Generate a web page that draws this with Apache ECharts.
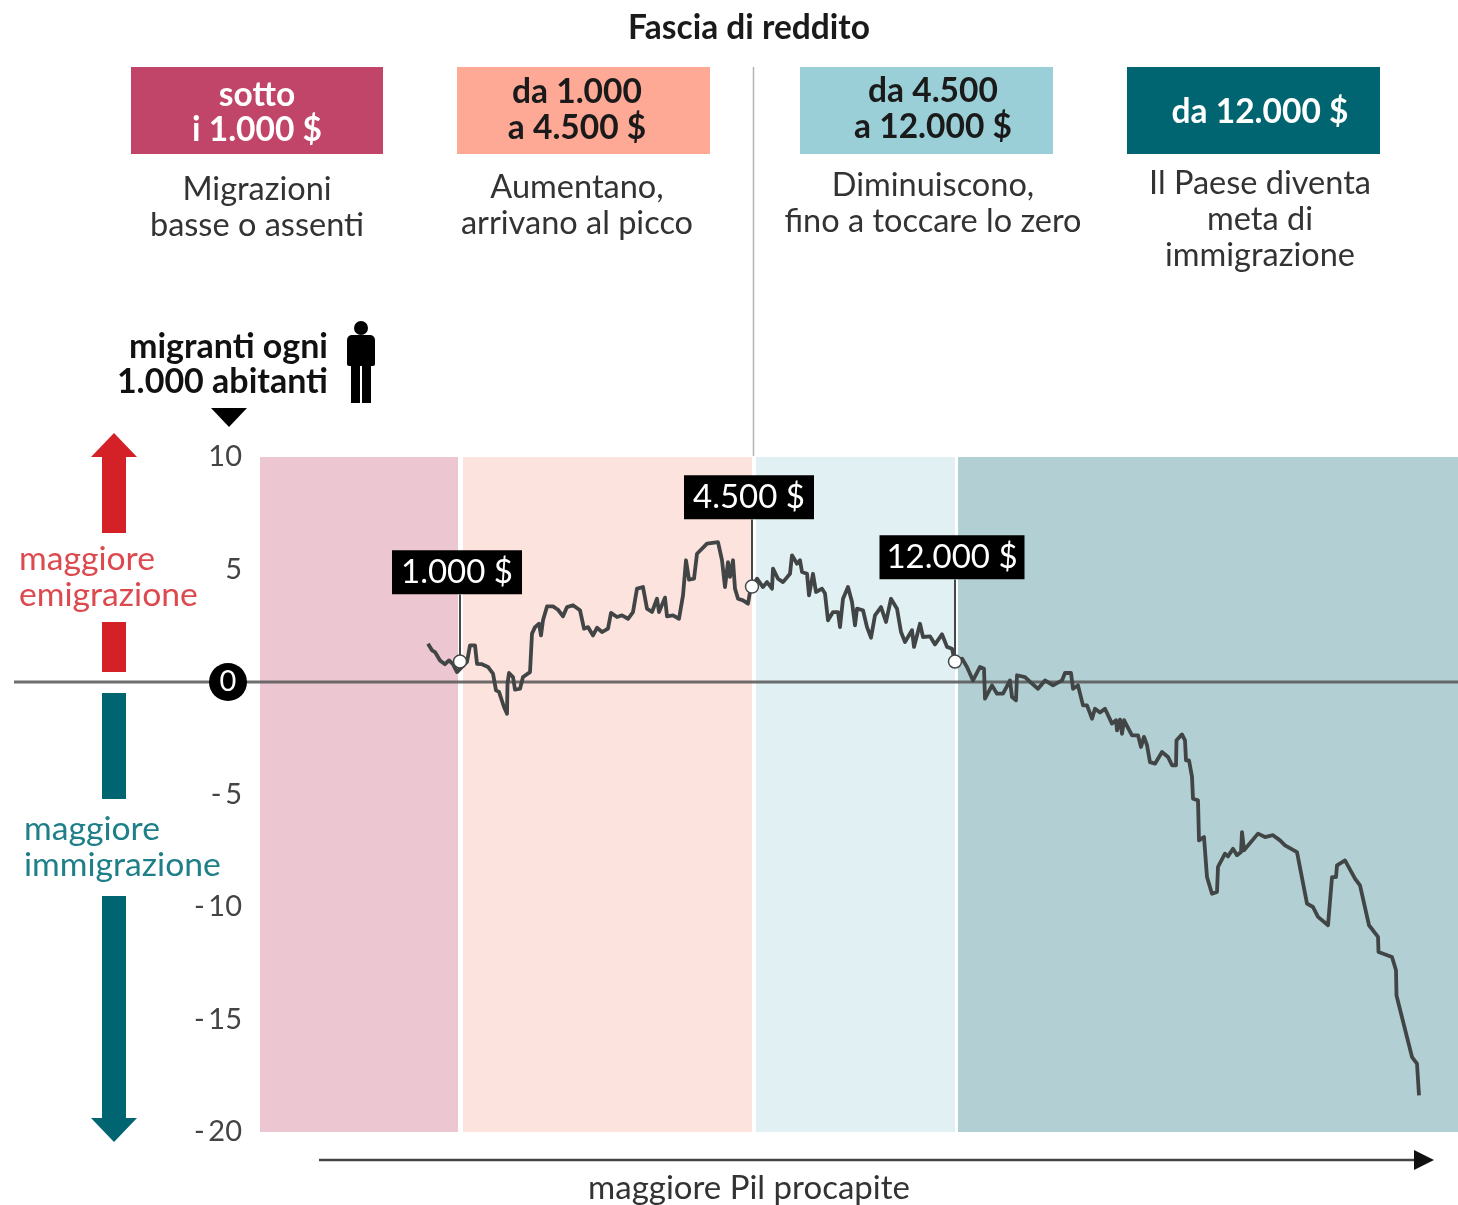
<!DOCTYPE html>
<html>
<head>
<meta charset="utf-8">
<title>Fascia di reddito</title>
<script src="https://cdn.jsdelivr.net/npm/echarts@6/dist/echarts.min.js"></script>
<style>
  html, body { margin: 0; padding: 0; background: #fff; }
  #main { width: 1458px; height: 1205px; }
</style>
</head>
<body>
<div id="main"></div>
<script>
// posizione lungo l'asse (paesi ordinati per Pil procapite)
const lineX = [168,172,175,180,185,189,193,197,202,207,210,215,217,222,228,233,236,239,244,247,247.5,249,253,255,260,263,270,272,275,279,281,283,287,293,298,303,307,313,320,324,328,333,337,342,348,351,357,362,368,373,377,383,387,392,397,399,405,407,413,419,423,426,429,434,437,447,458,462,465,468,470,473,475,478,483,488,490,493,497,503,507,512,513,518,523,530,532,537,540,542,547,549,553,556,562,565,568,573,578,580,583,588,592,595,597,603,607,611,615,621,626,631,637,641,645,652,654,660,663,670,675,682,687,692,695,702,707,713,720,724,725,732,737,743,750,752,756,757,765,772,778,785,793,802,805,811,813,818,823,827,832,835,840,845,852,856,857,860,862,864,872,878,881,884,887,890,895,902,908,912,916,916.5,922,925,926,929,932,933,938,939,944,947,952,957,958,965,968,973,977,981,982,984,998,1005,1013,1020,1025,1037,1047,1053,1058,1068,1072,1076,1077,1085,1095,1100,1109,1118,1118.5,1132,1136,1136.5,1152,1157,1159];
const lineY = [1.70,1.41,1.33,0.96,0.79,0.96,0.79,0.44,0.67,0.89,1.63,1.63,0.81,0.79,0.67,0.37,-0.37,-0.44,-1.11,-1.41,-0.07,0.40,0.22,-0.34,-0.30,0.22,0.44,2.15,2.44,2.59,2.07,2.74,3.36,3.36,3.21,2.92,3.33,3.41,3.19,2.37,2.44,2.07,2.41,2.22,2.37,3.07,2.89,2.96,2.81,3.11,4.15,4.22,3.26,3.11,3.70,3.11,3.75,2.92,2.96,2.81,3.85,5.41,4.55,4.59,5.70,6.15,6.22,5.41,4.22,5.33,4.67,5.41,4.15,3.70,3.63,3.48,4.00,4.30,4.59,4.22,4.44,4.15,5.04,4.59,4.44,4.81,5.63,5.26,5.41,4.89,4.81,3.85,4.81,4.00,4.15,3.93,2.74,3.11,3.11,2.44,3.70,4.22,3.56,2.52,3.26,3.19,2.44,1.97,2.96,3.33,2.67,3.70,3.26,2.22,1.78,2.30,1.56,2.59,2.00,2.03,1.67,2.12,1.56,1.48,0.89,1.04,0.67,0.07,0.67,0.59,-0.74,-0.15,-0.52,-0.52,0.07,-0.67,-0.81,0.30,0.22,-0.07,-0.30,0.07,-0.15,0.07,0.40,0.40,-0.30,-0.15,-1.04,-1.04,-1.63,-1.19,-1.36,-1.19,-1.85,-1.70,-2.15,-1.67,-2.30,-1.70,-2.37,-2.37,-2.89,-2.44,-2.81,-3.56,-3.63,-3.11,-3.33,-3.70,-3.70,-2.59,-2.33,-2.59,-3.48,-3.48,-4.22,-5.19,-5.26,-7.04,-6.89,-8.67,-9.41,-9.33,-8.22,-7.63,-7.75,-7.41,-7.70,-7.56,-6.67,-7.48,-6.74,-6.89,-6.81,-7.04,-7.26,-7.56,-9.85,-10.00,-10.44,-10.81,-8.67,-8.67,-8.15,-7.93,-8.74,-9.04,-10.81,-11.33,-12.00,-12.22,-12.81,-13.93,-16.67,-16.96,-18.37];

const bandStart = [0, 203, 496, 698];
const bandEnd = [198, 492, 695, 1198];
const thresholdX = [200, 492, 695];
const thresholdY = [0.91, 4.24, 0.91];
const thresholdLabels = ['1.000 $', '4.500 $', '12.000 $'];
const yTicks = [10, 5, -5, -10, -15, -20];

const FONT = 'Lato';
const bandColors = ['#ecc6d1', '#fde3de', '#e0f0f3', '#b2cfd3'];
const stemLift = [67, 67, 82]; // px tra pallino e riquadro
const boxWidth = [130, 130, 145];
const UNIT = 22.5; // px per unita' sull'asse y

const BOLD = 33.5, BODY = 32.5, SIDE = 33.7;

function txt(text, x, y, size, weight, color, align) {
  return {
    type: 'text', z: 20, silent: true,
    style: { text, x, y, fontFamily: FONT, fontSize: size, fontWeight: weight, fill: color, textAlign: align || 'center', textVerticalAlign: 'middle' }
  };
}
function box(x, y, w, h, color, z) {
  return { type: 'rect', z: z || 10, silent: true, shape: { x, y, width: w, height: h }, style: { fill: color } };
}
function tri(points, color) {
  return { type: 'polygon', z: 10, silent: true, shape: { points }, style: { fill: color } };
}

const chart = echarts.init(document.getElementById('main'));

const graphics = [
  txt('Fascia di reddito', 749, 28, BOLD, 'bold', '#1a1a1a'),
  box(131, 67, 252, 87, '#c04568'),
  box(457, 67, 253, 87, '#fea896'),
  box(800, 67, 253, 87, '#9bcfd7'),
  box(1127, 67, 253, 87, '#006570'),
  txt('sotto', 257, 95, BOLD, 'bold', '#fff'),
  txt('i 1.000 $', 257, 130, BOLD, 'bold', '#fff'),
  txt('da 1.000', 577, 92, BOLD, 'bold', '#1a1a1a'),
  txt('a 4.500 $', 577, 128, BOLD, 'bold', '#1a1a1a'),
  txt('da 4.500', 933, 91, BOLD, 'bold', '#1a1a1a'),
  txt('a 12.000 $', 933, 127, BOLD, 'bold', '#1a1a1a'),
  txt('da 12.000 $', 1260, 112, BOLD, 'bold', '#fff'),
  txt('Migrazioni', 257, 190, BODY, 'normal', '#333'),
  txt('basse o assenti', 257, 226, BODY, 'normal', '#333'),
  txt('Aumentano,', 577, 188, BODY, 'normal', '#333'),
  txt('arrivano al picco', 577, 224, BODY, 'normal', '#333'),
  txt('Diminuiscono,', 933, 186, BODY, 'normal', '#333'),
  txt('fino a toccare lo zero', 933, 222, BODY, 'normal', '#333'),
  txt('Il Paese diventa', 1260, 184, BODY, 'normal', '#333'),
  txt('meta di', 1260, 220, BODY, 'normal', '#333'),
  txt('immigrazione', 1260, 256, BODY, 'normal', '#333'),
  // separatore verticale
  { type: 'line', z: 5, silent: true, shape: { x1: 753.5, y1: 67, x2: 753.5, y2: 456 }, style: { stroke: '#b5b5b5', lineWidth: 1.5 } },
  txt('migranti ogni', 328, 347, 34, 'bold', '#111', 'right'),
  txt('1.000 abitanti', 328, 382, 34, 'bold', '#111', 'right'),
  // omino
  { type: 'circle', z: 10, silent: true, shape: { cx: 361, cy: 328, r: 7 }, style: { fill: '#000' } },
  { type: 'rect', z: 10, silent: true, shape: { x: 347, y: 335, width: 28, height: 31, r: [5, 5, 2, 2] }, style: { fill: '#000' } },
  box(351, 362, 9, 41, '#000'),
  box(362, 362, 9, 41, '#000'),
  tri([[211, 408], [247, 408], [229, 427]], '#000'),
  // frecce a sinistra
  tri([[91, 457], [137, 457], [114, 433]], '#d42027'),
  box(102, 457, 24, 76, '#d42027'),
  box(102, 622, 24, 50, '#d42027'),
  txt('maggiore', 19, 559, SIDE, 'normal', '#dc4a50', 'left'),
  txt('emigrazione', 19, 595, SIDE, 'normal', '#dc4a50', 'left'),
  box(102, 693, 24, 106, '#006570'),
  box(102, 896, 24, 222, '#006570'),
  tri([[91, 1118], [137, 1118], [114, 1142]], '#006570'),
  txt('maggiore', 24, 829, SIDE, 'normal', '#1f7f88', 'left'),
  txt('immigrazione', 24, 865, SIDE, 'normal', '#1f7f88', 'left'),
  // freccia Pil
  { type: 'line', z: 10, silent: true, shape: { x1: 319, y1: 1160, x2: 1420, y2: 1160 }, style: { stroke: '#444', lineWidth: 2.5 } },
  tri([[1414, 1150], [1434, 1160], [1414, 1170]], '#111'),
  txt('maggiore Pil procapite', 749, 1188, 33, 'normal', '#333')
];

chart.setOption({
  animation: false,
  backgroundColor: '#fff',
  grid: { left: 260, top: 457, width: 1198, height: 675 },
  xAxis: { type: 'value', min: 0, max: 1198, show: false },
  yAxis: {
    type: 'value', min: -20, max: 10, interval: 5, z: 1,
    axisLine: { show: false },
    axisTick: { show: false },
    splitLine: { lineStyle: { color: '#fff', width: 2, opacity: 0.8 } },
    axisLabel: {
      margin: 18, color: '#444', fontFamily: FONT, fontSize: 29,
      padding: [6, 0, 0, 0],
      customValues: yTicks,
      formatter: (v) => (v < 0 ? '-\u2009' + Math.abs(v) : String(v))
    }
  },
  series: [
    {
      name: 'fasce', type: 'line', z: 0, silent: true, data: [], symbol: 'none',
      markArea: {
        silent: true,
        data: bandStart.map((s, i) => [
          { xAxis: s, yAxis: -20, itemStyle: { color: bandColors[i], opacity: 1 } },
          { xAxis: bandEnd[i], yAxis: 10 }
        ])
      }
    },
    {
      name: 'migranti', type: 'line', z: 5, symbol: 'none', silent: true,
      data: lineX.map((x, i) => [x, lineY[i]]),
      lineStyle: { color: '#424546', width: 3.8, join: 'round' }
    },
    {
      name: 'soglie', type: 'scatter', z: 6, silent: true, symbol: 'circle', symbolSize: 13,
      itemStyle: { color: '#fff', borderColor: '#454849', borderWidth: 1.5, opacity: 1 },
      data: thresholdX.map((x, i) => ({
        value: [x, thresholdY[i]],
        label: {
          show: true, position: 'top', distance: stemLift[i] - 7, offset: [-3, 0],
          formatter: thresholdLabels[i],
          width: boxWidth[i], height: 44, lineHeight: 44, align: 'center',
          backgroundColor: '#000', color: '#fff', fontFamily: FONT, fontSize: 33
        }
      })),
      markLine: {
        silent: true, symbol: 'none', z: 4,
        label: { show: false },
        lineStyle: { color: '#454849', width: 2, type: 'solid' },
        data: thresholdX.map((x, i) => [
          { coord: [x, thresholdY[i]] },
          { coord: [x, thresholdY[i] + stemLift[i] / UNIT] }
        ])
      }
    }
  ],
  graphic: graphics
});

// linea dello zero, esce dal grid verso sinistra
const zeroY = chart.convertToPixel({ yAxisIndex: 0 }, 0);
chart.setOption({
  graphic: graphics.concat([
    { type: 'line', z: 3, silent: true, shape: { x1: 14, y1: zeroY, x2: 1458, y2: zeroY }, style: { stroke: '#555', lineWidth: 3, opacity: 0.85 } },
    { type: 'circle', z: 10, silent: true, shape: { cx: 228, cy: zeroY, r: 19 }, style: { fill: '#000' } },
    txt('0', 228, zeroY, 29, 'normal', '#fff')
  ])
});
</script>
</body>
</html>
